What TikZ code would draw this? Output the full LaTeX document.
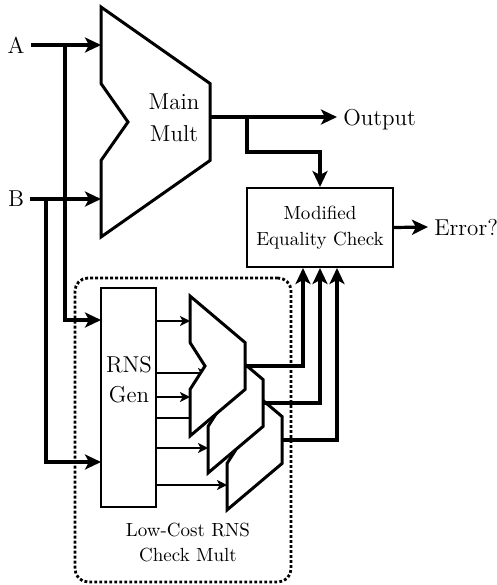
\documentclass[tikz,border=0pt]{standalone}
\usepackage{tikz}
\usetikzlibrary{arrows.meta,positioning}

\pgfdeclarelayer{back}
\pgfsetlayers{back,main}

% multiplier outline: name, x, y, width, height, slope, notch, in1, in2
\newcommand{\multshape}[9]{%
  \draw[mult] (#2,#3) -- ++(#4,#6) -- ++(0,{#5-2*#6}) -- ++(-#4,#6) -- ++(0,-#6)
    -- ++(#7,{-(#5/2-#6)}) -- ++(-#7,{-(#5/2-#6)}) -- cycle;
  \coordinate (#1-in1) at (#2,{#3+#8});
  \coordinate (#1-in2) at (#2,{#3+#9});
  \coordinate (#1-out) at ({#2+#4},{#3+#5/2});
}

\begin{document}
\begin{tikzpicture}[
  x=0.5pt, y=-0.5pt,
  mult/.style={draw, fill=white, line width=1.5pt, line join=miter},
  box/.style={draw, line width=1pt, inner sep=0pt},
  dotbox/.style={draw, line width=1.4pt, dash pattern=on 1.4pt off 1.1pt, rounded corners=6.5pt},
  arrb/.style={-{Stealth[length=8pt,width=7.5pt,inset=2pt]}, line width=1.6pt},
  arrs/.style={-{Stealth[length=5pt,width=5pt,inset=1.3pt]}, line width=1.1pt},
  lbl/.style={font=\fontsize{11.5}{16}\selectfont, align=center, inner sep=0pt},
  io/.style={font=\fontsize{11.5}{16}\selectfont, text depth=0pt, inner sep=3pt},
  small/.style={font=\fontsize{9.5}{13}\selectfont, align=center, inner sep=0pt}
]
\useasboundingbox (0,0) rectangle (497,585);

% main multiplier
\multshape{main}{101}{7}{109}{230}{76.5}{27}{38}{192}
\node[lbl] (maintxt) at (174,118) {Main\\Mult};
\coordinate (mainout) at ([yshift=2.5pt]main-out);

\node[io] (a) at (16,45) {A};
\node[io] (b) at (16,199) {B};
\draw[arrb] (a) -- (main-in1);
\draw[arrb] (b) -- (main-in2);

\node[io, anchor=west] (output) at (337,117) {Output};
\draw[arrb] (mainout) -- (output);

\node[box, small, minimum width=73pt, minimum height=39.5pt] (eq) at (320,227.5) {Modified\\Equality Check};
\node[io, anchor=west] (error) at (428,227) {Error?};
\draw[arrb] (eq.east) -- (error.west);

\coordinate (osplit) at (247,117);
\coordinate (obend) at (320,152);
\draw[arrb] (osplit) |- (obend) -- (eq.north);

% check multiplier
\node[box, minimum width=27.5pt, minimum height=109.5pt] (rns) at (128.5,397.5) {};
\node[lbl, font=\fontsize{11.5}{15}\selectfont] (rnstxt) at (129,380) {RNS\\Gen};

\coordinate (asplit) at (65,45);
\coordinate (bsplit) at (46,199);
\coordinate (rnsin1) at (101,320);
\coordinate (rnsin2) at (101,462);
\draw[arrb] (asplit) |- (rnsin1);
\draw[arrb] (bsplit) |- (rnsin2);

\multshape{m3}{227}{370}{55}{140}{46.5}{15}{48}{115}
\multshape{m2}{208}{333}{55}{140}{46.5}{15}{40}{115}
\multshape{m1}{190}{296}{55}{140}{46.5}{15}{25}{101}

\begin{pgfonlayer}{back}
\node[dotbox, minimum width=108pt, minimum height=152pt] (check) at (183,430) {};
\foreach \m in {m1-in1, m2-in1, m1-in2, m3-in1, m2-in2, m3-in2}
  \draw[arrs] (\m -| rns.east) -- (\m);
\end{pgfonlayer}
\node[small, font=\fontsize{9.5}{12.5}\selectfont] (checktxt) at (188,543) {Low-Cost RNS\\Check Mult};

\draw[arrb] (m1-out) -| ([xshift=-8.5pt]eq.south);
\draw[arrb] (m2-out) -| (eq.south);
\draw[arrb] (m3-out) -| ([xshift=8.5pt]eq.south);
\end{tikzpicture}
\end{document}
